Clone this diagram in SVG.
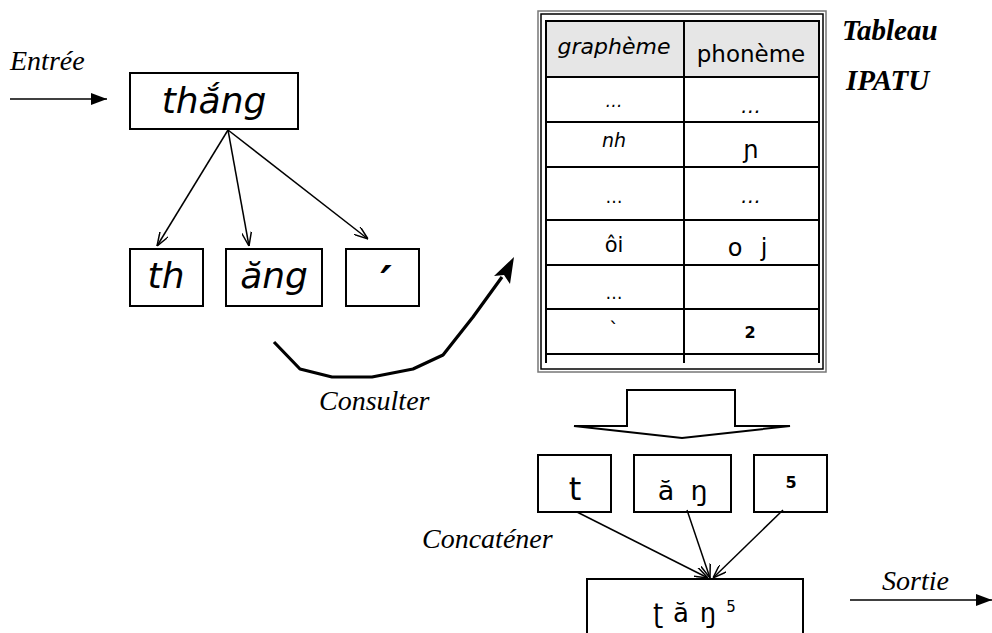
<svg xmlns="http://www.w3.org/2000/svg" width="992" height="633" viewBox="0 0 992 633">
<style>
.box{fill:#fff;stroke:#000;stroke-width:2}
.ln{stroke:#000;stroke-width:1.5;fill:none}
.big{font-family:"DejaVu Sans",sans-serif;font-style:italic;font-size:36px;text-anchor:middle}
.tb{font-family:"DejaVu Sans",sans-serif;text-anchor:middle}
.ipa{font-family:"DejaVu Sans",sans-serif;text-anchor:middle}
.lbl{font-family:"Liberation Serif",serif;font-style:italic;font-size:28px}
.ttl{font-family:"Liberation Serif",serif;font-style:italic;font-weight:bold;font-size:29px}
.grid{stroke:#000;stroke-width:2}
</style>
<defs>
<marker id="open" viewBox="0 0 14 10" refX="14" refY="5" markerWidth="14" markerHeight="10" markerUnits="userSpaceOnUse" orient="auto">
<path d="M0,0 L14,5 L0,10" fill="none" stroke="#000" stroke-width="1.5"/>
</marker>
<marker id="solid" viewBox="0 0 16 12" refX="16" refY="6" markerWidth="16" markerHeight="12" markerUnits="userSpaceOnUse" orient="auto">
<path d="M0,0 L16,6 L0,12 Z" fill="#000"/>
</marker>
</defs>

<g id="entree">
<text class="lbl" x="10" y="70">Entrée</text>
</g>

<g id="thang">
<rect class="box" x="130" y="73" width="168" height="56"/>
<text class="big" x="214" y="113">thắng</text>
</g>

<g id="th">
<rect class="box" x="130" y="249" width="73" height="57"/>
<text class="big" x="166" y="288">th</text>
</g>
<g id="ang">
<rect class="box" x="226" y="249" width="96" height="57"/>
<text class="big" x="274" y="288">ăng</text>
</g>
<g id="ton">
<rect class="box" x="346" y="249" width="73" height="57"/>
<text class="big" x="386" y="298" style="font-size:44px;font-weight:bold">′</text>
</g>

<g id="tableau">
<rect x="538" y="11" width="288" height="361" fill="#fff" stroke="#777" stroke-width="1.5"/>
<rect x="541" y="14" width="282" height="355" fill="none" stroke="#000" stroke-width="1.5"/>
<rect x="546" y="21" width="273" height="56" fill="#e6e6e6"/>
<g class="grid">
<line x1="546" y1="21" x2="819" y2="21"/>
<line x1="546" y1="77" x2="819" y2="77"/>
<line x1="546" y1="122" x2="819" y2="122"/>
<line x1="546" y1="167" x2="819" y2="167"/>
<line x1="546" y1="220" x2="819" y2="220"/>
<line x1="546" y1="265" x2="819" y2="265"/>
<line x1="546" y1="309" x2="819" y2="309"/>
<line x1="546" y1="354" x2="819" y2="354"/>
<line x1="546" y1="20" x2="546" y2="363"/>
<line x1="684" y1="20" x2="684" y2="363"/>
<line x1="819" y1="20" x2="819" y2="363"/>
</g>
<text class="tb" x="614" y="54" style="font-size:22px;font-style:italic">graphème</text>
<text class="tb" x="751" y="62" style="font-size:23px">phonème</text>
<text class="tb" x="614" y="107" style="font-size:17px;font-style:italic">…</text>
<text class="tb" x="751" y="113" style="font-size:20px;font-style:italic">…</text>
<text class="tb" x="614" y="147" style="font-size:19px;font-style:italic">nh</text>
<text class="tb" x="751" y="158" style="font-size:24px">ɲ</text>
<text class="tb" x="614" y="203" style="font-size:17px">…</text>
<text class="tb" x="751" y="203" style="font-size:20px;font-style:italic">…</text>
<text class="tb" x="614" y="252" style="font-size:21px">ôi</text>
<text class="tb" x="735" y="256" style="font-size:24px">o</text>
<text class="tb" x="764" y="256" style="font-size:24px">j</text>
<text class="tb" x="614" y="299" style="font-size:17px">…</text>
<text class="tb" x="614" y="336" style="font-size:20px">`</text>
<text class="tb" x="750" y="338" style="font-size:16px;font-weight:bold">2</text>
</g>
<g id="titre">
<text class="ttl" x="842" y="40">Tableau</text>
<text class="ttl" x="846" y="90">IPATU</text>
</g>

<g id="t">
<rect class="box" x="538" y="455" width="73" height="57"/>
<text class="ipa" x="575" y="500" style="font-size:32px">t</text>
</g>
<g id="an">
<rect class="box" x="634" y="455" width="97" height="57"/>
<text class="ipa" x="666" y="500" style="font-size:27px">ă</text>
<text class="ipa" x="699" y="500" style="font-size:27px">ŋ</text>
</g>
<g id="cinq">
<rect class="box" x="754" y="455" width="73" height="57"/>
<text class="tb" x="791" y="488" style="font-size:16px;font-weight:bold">5</text>
</g>

<g id="sortie-node">
<rect class="box" x="587" y="579" width="216" height="60"/>
<text class="ipa" x="658" y="622" style="font-size:26px">ʈ</text>
<text class="ipa" x="681" y="622" style="font-size:26px">ă</text>
<text class="ipa" x="708" y="622" style="font-size:26px">ŋ</text>
<text class="tb" x="731" y="612" style="font-size:15px">5</text>
</g>

<g id="labels">
<text class="lbl" x="319" y="410">Consulter</text>
<text class="lbl" x="422" y="548">Concaténer</text>
<text class="lbl" x="882" y="590">Sortie</text>
</g>

<g id="connectors">
<line class="ln" x1="10" y1="99" x2="107" y2="99" stroke-width="2" marker-end="url(#solid)"/>
<line class="ln" x1="228" y1="130" x2="157" y2="246" marker-end="url(#open)"/>
<line class="ln" x1="228" y1="130" x2="249" y2="246" marker-end="url(#open)"/>
<line class="ln" x1="228" y1="130" x2="368" y2="239" marker-end="url(#open)"/>
<polyline points="274,342 300,369 332,377 372,377 413,369 443,355 473,317 502,277" fill="none" stroke="#000" stroke-width="3.2" stroke-linejoin="round"/>
<polygon points="514,257 510,284 504,275 494,276" fill="#000"/>
<polygon points="627,390 735,390 735,426 790,426 682,438 574,426 627,426" fill="#fff" stroke="#000" stroke-width="2"/>
<line class="ln" x1="577" y1="512" x2="708" y2="578" marker-end="url(#open)"/>
<line class="ln" x1="687" y1="510" x2="710" y2="578" marker-end="url(#open)"/>
<line class="ln" x1="783" y1="510" x2="713" y2="578" marker-end="url(#open)"/>
<line class="ln" x1="850" y1="600" x2="992" y2="600" stroke-width="2" marker-end="url(#solid)"/>
</g>
</svg>
